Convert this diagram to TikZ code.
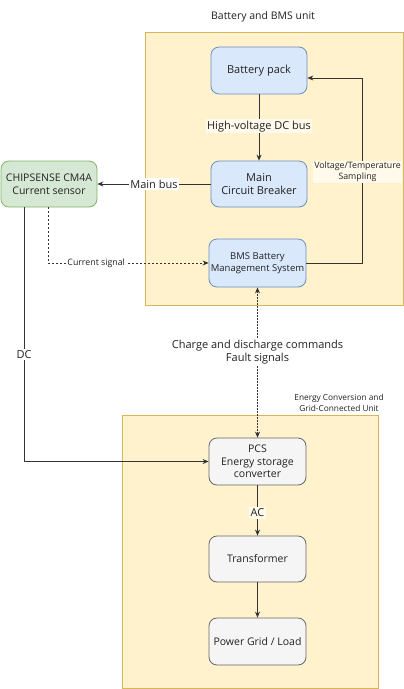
\documentclass[tikz,border=0pt]{standalone}
\usepackage{fontspec}
\setmainfont{Open Sans}
\usetikzlibrary{arrows.meta}
\definecolor{yfill}{HTML}{FFF2CC}
\definecolor{ydraw}{HTML}{D6B656}
\definecolor{bfill}{HTML}{DAE8FC}
\definecolor{bdraw}{HTML}{6C8EBF}
\definecolor{gfill}{HTML}{D5E8D4}
\definecolor{gdraw}{HTML}{82B366}
\definecolor{pfill}{HTML}{F5F5F5}
\definecolor{pdraw}{HTML}{666666}
\definecolor{txt}{HTML}{222222}
\definecolor{lblbg}{HTML}{FFFAEB}
\tikzset{
  unitbox/.style={draw=ydraw, fill=yfill, line width=0.8pt},
  blk/.style={rounded corners=8pt, line width=0.8pt, minimum width=96pt, minimum height=47pt, align=center, inner sep=1pt, font=\fontsize{10.5}{13}\selectfont, text=txt},
  bluebox/.style={blk, draw=bdraw, fill=bfill},
  greenbox/.style={blk, draw=gdraw, fill=gfill},
  graybox/.style={blk, draw=pdraw, fill=pfill},
  conn/.style={draw=black!80, line width=0.8pt, -{Stealth[length=6pt,width=5pt]}},
  dconn/.style={conn, dash pattern=on 2pt off 2pt},
  elabel/.style={font=\fontsize{11}{13.5}\selectfont, text=txt, inner sep=1.5pt, align=center},
  slabel/.style={font=\fontsize{8.8}{11}\selectfont, text=txt, inner sep=1pt, align=center},
  tlabel/.style={font=\fontsize{8.3}{10.5}\selectfont, text=txt, inner sep=1pt, align=center},
}
\begin{document}
\begin{tikzpicture}[x=1pt,y=-1pt]
\useasboundingbox (0,0) rectangle (404,689);
\fill[white] (0,0) rectangle (404,689);
% containers
\draw[unitbox] (145,32) rectangle (403,305);
\draw[unitbox] (122,415) rectangle (378,688);
\node[font=\fontsize{10.5}{13}\selectfont, text=txt] (t1) at (263,17) {Battery and BMS unit};
\node[tlabel] (t2) at (339,403) {Energy Conversion and\\Grid-Connected Unit};
% nodes
\node[bluebox, minimum height=47pt, font=\fontsize{11}{13.5}\selectfont] (bat) at (259,70.5) {Battery pack};
\node[bluebox, minimum height=46pt, font=\fontsize{11}{13.5}\selectfont] (mcb) at (259,184) {Main\\Circuit Breaker};
\node[bluebox, minimum height=48pt, minimum width=97pt, font=\fontsize{9.5}{12.5}\selectfont] (bms) at (257.5,263) {BMS Battery\\Management System};
\node[greenbox, minimum height=46pt] (chip) at (49,184) {CHIPSENSE CM4A\\Current sensor};
\node[graybox, minimum width=97pt, font=\fontsize{10.5}{12.5}\selectfont] (pcs) at (257.5,461.5) {PCS\\Energy storage\\converter};
\node[graybox, minimum width=97pt, minimum height=46pt] (tr) at (257.5,559) {Transformer};
\node[graybox, minimum width=97pt] (grid) at (257.5,641.5) {Power Grid / Load};
% helper coordinates
\coordinate (vt1) at (362,263);
\coordinate (vt2) at (362,78);
\coordinate (cs1) at (48,263);
\coordinate (dc1) at (24,461.5);
% connectors
\draw[conn] (bat.south) -- node[elabel, fill=lblbg, pos=0.48] {High-voltage DC bus} (mcb.north);
\draw[conn] (mcb.west) -- node[elabel, fill=white, pos=0.5] {Main bus} (chip.east);
\draw[conn] (bms.east) -- (vt1) -- (vt2) -- (bat.east |- vt2);
\node[slabel, fill=lblbg] (vtl) at (357.5,172) {Voltage/Temperature\\Sampling};
\draw[dconn] (chip.south -| cs1) -- (cs1) -- node[slabel, fill=white, pos=0.3] {Current signal} (bms.west);
\draw[conn] (chip.south -| dc1) -- node[elabel, fill=white, pos=0.58] {DC} (dc1) -- (pcs.west);
\draw[dconn, {Stealth[length=6pt,width=5pt]}-{Stealth[length=6pt,width=5pt]}, dash pattern=on 1.5pt off 1.5pt] (bms.south) -- node[elabel, fill=white, pos=0.43] {Charge and discharge commands\\Fault signals} (pcs.north);
\draw[conn] (pcs.south) -- node[elabel, fill=lblbg, pos=0.55] {AC} (tr.north);
\draw[conn] (tr.south) -- (grid.north);
\end{tikzpicture}
\end{document}
